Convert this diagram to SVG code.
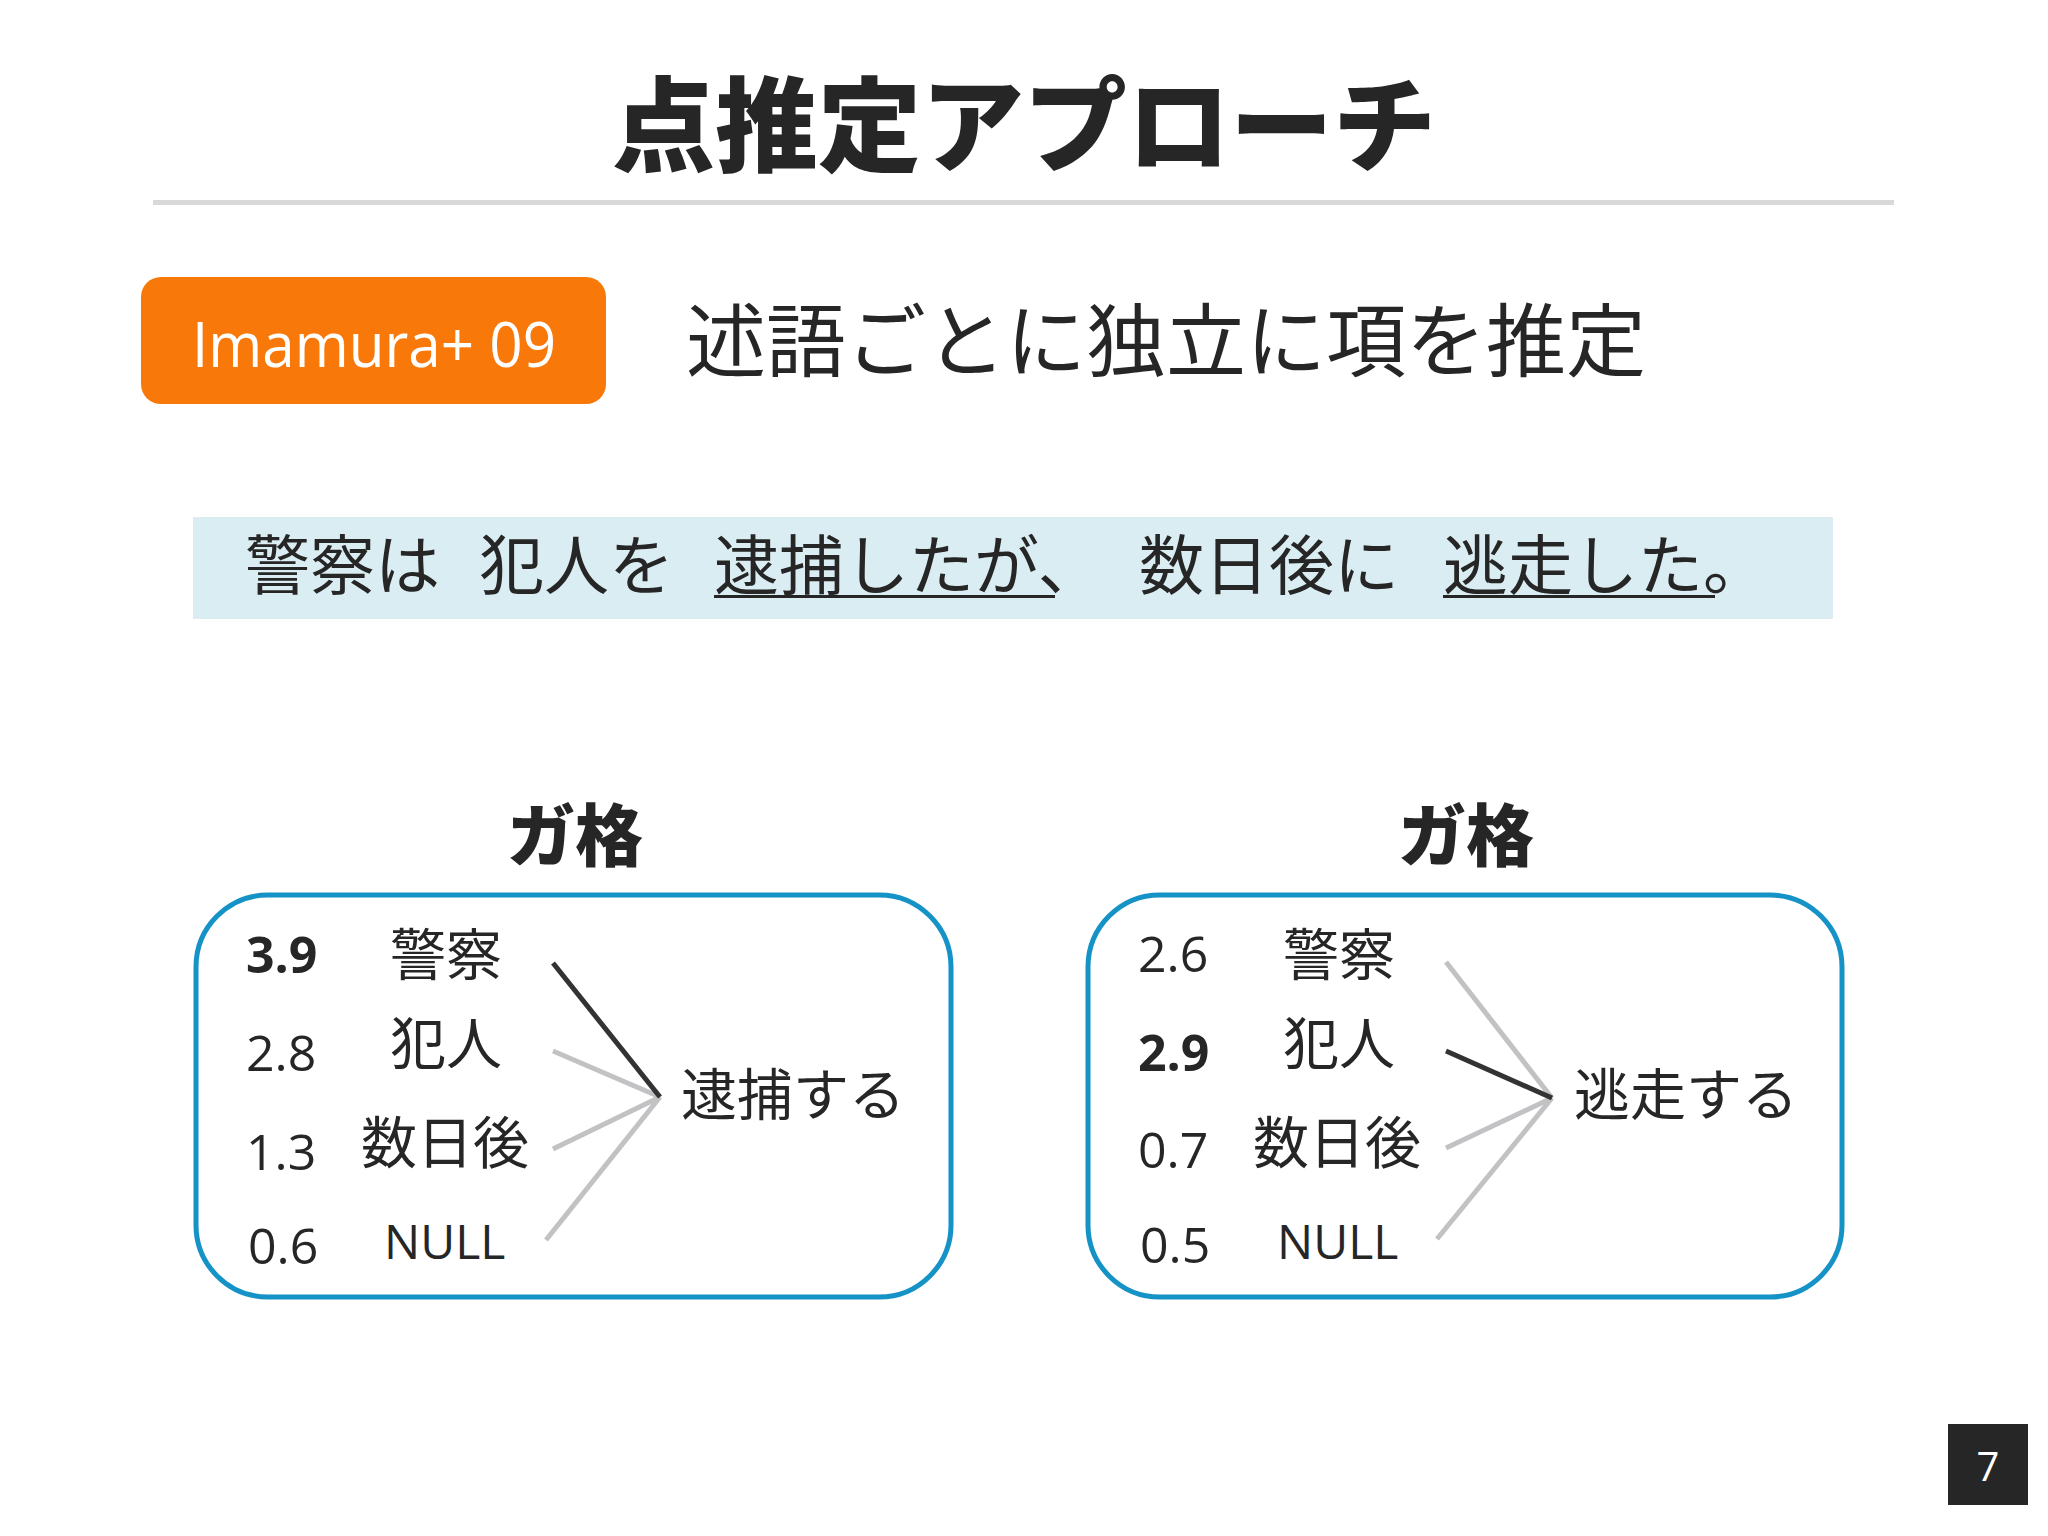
<svg xmlns="http://www.w3.org/2000/svg" width="2048" height="1536" viewBox="0 0 2048 1536">
<defs>
<style>
.cjk{font-family:"Noto Sans CJK JP","Noto Sans",sans-serif;fill:#262626}
.lat{font-family:"Open Sans","Noto Sans CJK JP",sans-serif;fill:#262626}
.num{font-family:"Open Sans",sans-serif;font-size:50px;fill:#262626}
.item{font-family:"Noto Sans CJK JP",sans-serif;font-size:56px;fill:#262626}
.box{fill:none;stroke:#1592c6;stroke-width:5}
.dark{stroke:#333333;stroke-width:5;fill:none}
.light{stroke:#c2c2c4;stroke-width:5;fill:none}
</style>
</defs>
<rect width="2048" height="1536" fill="#ffffff"/>

<g id="title">
<text class="cjk" x="1024" y="164" font-size="103" font-weight="900" text-anchor="middle">点推定アプローチ</text>
<rect x="153" y="200" width="1741" height="5" fill="#d9d9d9"/>
</g>

<g id="tag">
<rect x="141" y="277" width="465" height="127" rx="20" fill="#f9780a"/>
<text class="lat" x="374" y="367" font-size="62" style="fill:#ffffff" text-anchor="middle" textLength="364" lengthAdjust="spacingAndGlyphs">Imamura+ 09</text>
</g>

<g id="subtitle">
<text class="cjk" x="686" y="370" font-size="80" font-weight="400">述語ごとに独立に項を推定</text>
</g>

<g id="sentence">
<rect x="193" y="517" width="1640" height="102" fill="#daedf2"/>
<text class="cjk" font-size="65" y="589"><tspan x="245">警察は</tspan><tspan x="479">犯人を</tspan><tspan x="714">逮捕したが、</tspan><tspan x="1139">数日後に</tspan><tspan x="1443">逃走した。</tspan></text>
<rect x="714" y="595" width="341" height="3" fill="#262626"/>
<rect x="1443" y="595" width="272" height="3" fill="#262626"/>
</g>

<g id="left-case">
<text class="cjk" x="575" y="861" font-size="68" font-weight="900" text-anchor="middle">ガ格</text>
<rect class="box" x="196" y="895" width="755" height="402" rx="72"/>
<text class="num" x="246" y="973" font-weight="700">3.9</text>
<text class="num" x="246" y="1071">2.8</text>
<text class="num" x="246" y="1170">1.3</text>
<text class="num" x="248" y="1264">0.6</text>
<text class="item" x="390" y="975">警察</text>
<text class="item" x="390" y="1064">犯人</text>
<text class="item" x="361" y="1163">数日後</text>
<text class="lat" x="384" y="1259" font-size="48">NULL</text>
<text class="item" x="681" y="1115">逮捕する</text>
</g>

<g id="right-case">
<text class="cjk" x="1466" y="861" font-size="68" font-weight="900" text-anchor="middle">ガ格</text>
<rect class="box" x="1088" y="895" width="754" height="402" rx="72"/>
<text class="num" x="1138" y="972">2.6</text>
<text class="num" x="1138" y="1071" font-weight="700">2.9</text>
<text class="num" x="1138" y="1168">0.7</text>
<text class="num" x="1140" y="1263">0.5</text>
<text class="item" x="1283" y="975">警察</text>
<text class="item" x="1283" y="1064">犯人</text>
<text class="item" x="1253" y="1163">数日後</text>
<text class="lat" x="1277" y="1259" font-size="48">NULL</text>
<text class="item" x="1574" y="1115">逃走する</text>
</g>

<g id="connectors">
<line class="light" x1="553" y1="1051" x2="660" y2="1097"/>
<line class="light" x1="553" y1="1149" x2="660" y2="1097"/>
<line class="light" x1="546" y1="1240" x2="660" y2="1097"/>
<line class="dark" x1="553" y1="963" x2="660" y2="1097"/>
<line class="light" x1="1446" y1="962" x2="1552" y2="1098"/>
<line class="light" x1="1446" y1="1148" x2="1552" y2="1098"/>
<line class="light" x1="1437" y1="1239" x2="1552" y2="1098"/>
<line class="dark" x1="1446" y1="1051" x2="1552" y2="1098"/>
</g>

<g id="page-number">
<rect x="1948" y="1424" width="80" height="81" fill="#262626"/>
<text x="1988" y="1481" font-family="Open Sans, sans-serif" font-size="40" fill="#ffffff" text-anchor="middle">7</text>
</g>
</svg>
